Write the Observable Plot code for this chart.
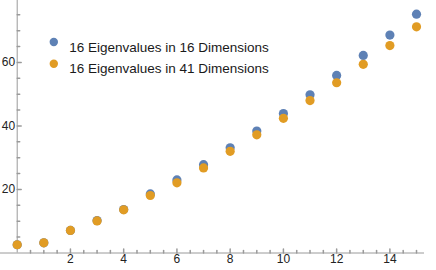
<!DOCTYPE html>
<html>
<head>
<meta charset="utf-8">
<script src="https://cdn.jsdelivr.net/npm/d3@7"></script>
<script src="https://cdn.jsdelivr.net/npm/@observablehq/plot@0.6"></script>
<style>
  html, body { margin: 0; padding: 0; background: #fff; }
  #chart svg { display: block; }
</style>
</head>
<body>
<div id="chart"></div>
<script>
const index = d3.range(16);
const eig16 = [2.6, 3.2, 7.1, 10.2, 13.7, 18.6, 23.0, 27.8, 33.1, 38.4, 43.9, 49.8, 55.9, 62.2, 68.6, 75.2];
const eig41 = [2.6, 3.2, 7.1, 10.1, 13.6, 18.1, 22.1, 26.8, 32.0, 37.2, 42.4, 48.0, 53.6, 59.4, 65.3, 71.2];
const seriesNames = ["16 Eigenvalues in 16 Dimensions", "16 Eigenvalues in 41 Dimensions"];
const seriesValues = [eig16, eig41];
const colors = ["#5E81B5", "#E19C24"];
const xMajor = [2, 4, 6, 8, 10, 12, 14];
const xMinor = [0.5, 1, 1.5, 2.5, 3, 3.5, 4.5, 5, 5.5, 6.5, 7, 7.5, 8.5, 9, 9.5, 10.5, 11, 11.5, 12.5, 13, 13.5, 14.5, 15];
const yMajor = [20, 40, 60];
const yMinor = [5, 10, 15, 25, 30, 35, 45, 50, 55, 65, 70, 75];

const axisColor = "#9a9a9a";
const tickShape = {draw(ctx, l) { ctx.moveTo(0, 0); ctx.lineTo(0, -l); }};

const marks = [
  Plot.ruleY([0], {stroke: axisColor, insetLeft: -17}),
  Plot.ruleX([0], {stroke: axisColor}),
  Plot.vector(xMajor, {x: d => d, frameAnchor: "bottom", length: 4, rotate: 0, anchor: "start", shape: tickShape, stroke: axisColor}),
  Plot.vector(xMinor, {x: d => d, frameAnchor: "bottom", length: 2.5, rotate: 0, anchor: "start", shape: tickShape, stroke: axisColor}),
  Plot.vector(yMajor, {y: d => d, frameAnchor: "left", length: 4, rotate: 90, anchor: "start", shape: tickShape, stroke: axisColor}),
  Plot.vector(yMinor, {y: d => d, frameAnchor: "left", length: 2.5, rotate: 90, anchor: "start", shape: tickShape, stroke: axisColor}),
  Plot.axisX(xMajor, {tickSize: 0, tickPadding: 1, fontSize: 12, color: "#222", label: null}),
  Plot.axisY(yMajor, {anchor: "left", tickSize: 0, tickPadding: 2, fontSize: 12, color: "#222", label: null})
];

seriesValues.forEach((vals, i) => {
  marks.push(Plot.dot(index, {x: d => d, y: d => vals[d], r: 4.6, fill: colors[i], stroke: "none"}));
});

seriesNames.forEach((name, i) => {
  marks.push(Plot.dot([name], {frameAnchor: "top-left", dx: 36.6, dy: 41.5 + i * 21.7, r: 4.2, fill: colors[i]}));
  marks.push(Plot.text([name], {text: d => d, frameAnchor: "top-left", dx: 52, dy: 41.5 + i * 21.7, textAnchor: "start", fontSize: 13.5, fill: "#1a1a1a"}));
});

const chart = Plot.plot({
  width: 436,
  height: 270,
  marginLeft: 16.7,
  marginRight: 12,
  marginTop: 0,
  marginBottom: 17.5,
  style: {fontFamily: "'Liberation Sans', Arial, sans-serif", background: "#fff"},
  x: {domain: [0, 15.3]},
  y: {domain: [0, 79.5]},
  marks
});
document.getElementById("chart").append(chart);
</script>
</body>
</html>
